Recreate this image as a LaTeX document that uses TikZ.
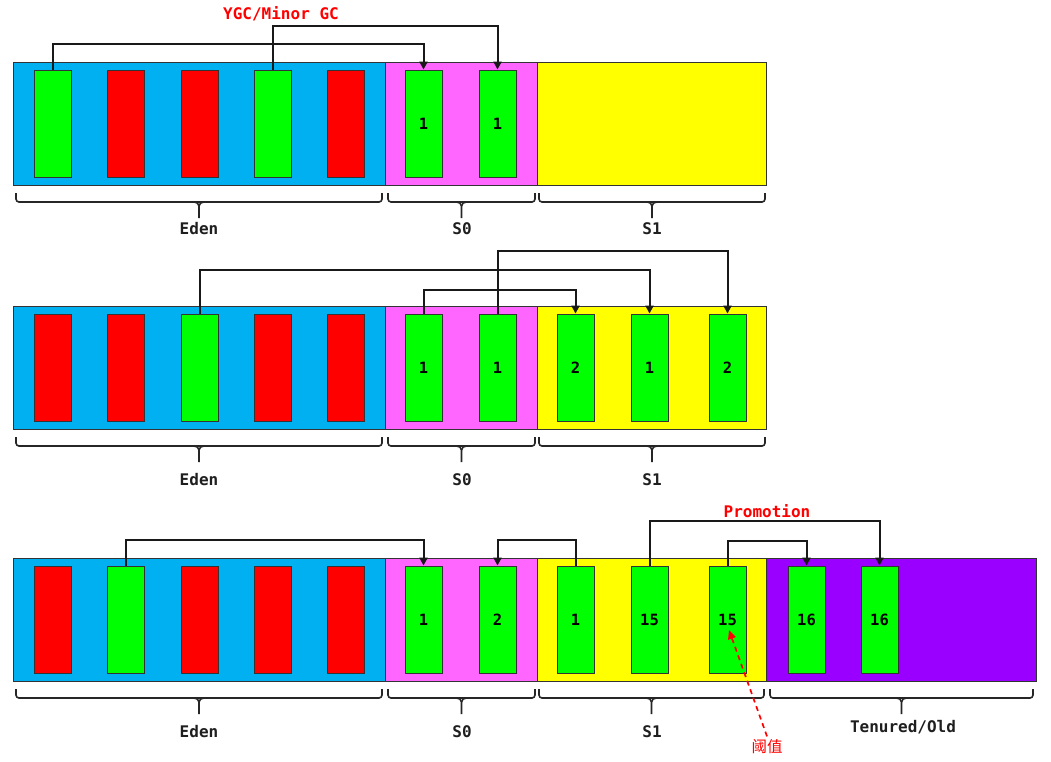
\documentclass[tikz,border=0pt]{standalone}
\usepackage{fontspec}
\setmonofont{DejaVu Sans Mono}
\newfontfamily\cjk{Noto Sans CJK SC}
\usetikzlibrary{arrows.meta}
\definecolor{edenblue}{HTML}{00B0F0}
\definecolor{szero}{HTML}{FF66FF}
\definecolor{sone}{HTML}{FFFF00}
\definecolor{oldgen}{HTML}{9900FF}
\definecolor{live}{HTML}{00FF00}
\definecolor{dead}{HTML}{FF0000}
\definecolor{edge}{HTML}{333333}
\tikzset{
  area/.style={draw=edge, line width=0.9pt},
  blk/.style={draw=edge, line width=0.9pt, minimum width=37pt, minimum height=107pt, inner sep=0pt, font=\ttfamily\bfseries\fontsize{15.5}{17}\selectfont},
  lv/.style={blk, fill=live},
  dd/.style={blk, fill=dead},
  conn/.style={draw=black!90, line width=2pt, -{Triangle[length=8pt,width=8pt]}},
  brc/.style={draw=black!85, line width=1.6pt},
  lbl/.style={font=\ttfamily\bfseries\fontsize{16}{18}\selectfont, text=black!88},
  title/.style={font=\ttfamily\bfseries\fontsize{16}{18}\selectfont, text=red},
}
\newcommand\mybrace[3]{%
  \pgfmathsetmacro\bmid{(#1+#2)/2}%
  \pgfmathsetmacro\bl{\bmid-5}%
  \pgfmathsetmacro\br{\bmid+5}%
  \pgfmathsetmacro\bh{#3+9}%
  \pgfmathsetmacro\bk{#3+13}%
  \pgfmathsetmacro\be{#3+25}%
  \draw[brc, rounded corners=3pt] (#1,#3) -- (#1,\bh) -- (#2,\bh) -- (#2,#3);
  \draw[brc] (\bl,\bh) to[out=0,in=90] (\bmid,\bk) -- (\bmid,\be);
  \draw[brc] (\br,\bh) to[out=180,in=90] (\bmid,\bk);
}
\begin{document}
\begin{tikzpicture}[x=1pt,y=-1pt]
\useasboundingbox[fill=white] (0,0) rectangle (1051,761);

% ---------- Row 1 ----------
\fill[edenblue] (13,62) rectangle (385,185);
\fill[szero] (385,62) rectangle (537,185);
\fill[sone] (537,62) rectangle (766,185);
\draw[area] (13,62) rectangle (766,185);
\draw[area] (385,62) -- (385,185);
\draw[area] (537,62) -- (537,185);

\node[lv] (a1) at (52.5,123.5) {};
\node[dd] (a2) at (125.5,123.5) {};
\node[dd] (a3) at (199.5,123.5) {};
\node[lv] (a4) at (272.5,123.5) {};
\node[dd] (a5) at (345.5,123.5) {};
\node[lv] (a6) at (423.5,123.5) {1};
\node[lv] (a7) at (497.5,123.5) {1};

\draw[conn] (a1.north) -- ++(0,-26) -| (a6.north);
\draw[conn] (a4.north) -- ++(0,-44) -| (a7.north);
\node[title] (t1) at (281,14) {YGC/Minor GC};

\mybrace{16}{382}{193}
\mybrace{388}{535}{193}
\mybrace{539}{765}{193}
\node[lbl] (l1) at (199,229) {Eden};
\node[lbl] (l2) at (462,229) {S0};
\node[lbl] (l3) at (652,229) {S1};

% ---------- Row 2 ----------
\fill[edenblue] (13,306) rectangle (385,429);
\fill[szero] (385,306) rectangle (537,429);
\fill[sone] (537,306) rectangle (766,429);
\draw[area] (13,306) rectangle (766,429);
\draw[area] (385,306) -- (385,429);
\draw[area] (537,306) -- (537,429);

\node[dd] (b1) at (52.5,367.5) {};
\node[dd] (b2) at (125.5,367.5) {};
\node[lv] (b3) at (199.5,367.5) {};
\node[dd] (b4) at (272.5,367.5) {};
\node[dd] (b5) at (345.5,367.5) {};
\node[lv] (b6) at (423.5,367.5) {1};
\node[lv] (b7) at (497.5,367.5) {1};
\node[lv] (b8) at (575.5,367.5) {2};
\node[lv] (b9) at (649.5,367.5) {1};
\node[lv] (b10) at (727.5,367.5) {2};

\draw[conn] (b3.north) -- ++(0,-44) -| (b9.north);
\draw[conn] (b6.north) -- ++(0,-24) -| (b8.north);
\draw[conn] (b7.north) -- ++(0,-63) -| (b10.north);

\mybrace{16}{382}{437}
\mybrace{388}{535}{437}
\mybrace{539}{765}{437}
\node[lbl] (m1) at (199,480) {Eden};
\node[lbl] (m2) at (462,480) {S0};
\node[lbl] (m3) at (652,480) {S1};

% ---------- Row 3 ----------
\fill[edenblue] (13,558) rectangle (385,681);
\fill[szero] (385,558) rectangle (537,681);
\fill[sone] (537,558) rectangle (766,681);
\fill[oldgen] (766,558) rectangle (1036,681);
\draw[area] (13,558) rectangle (1036,681);
\draw[area] (385,558) -- (385,681);
\draw[area] (537,558) -- (537,681);
\draw[area] (766,558) -- (766,681);

\node[dd] (c1) at (52.5,619.5) {};
\node[lv] (c2) at (125.5,619.5) {};
\node[dd] (c3) at (199.5,619.5) {};
\node[dd] (c4) at (272.5,619.5) {};
\node[dd] (c5) at (345.5,619.5) {};
\node[lv] (c6) at (423.5,619.5) {1};
\node[lv] (c7) at (497.5,619.5) {2};
\node[lv] (c8) at (575.5,619.5) {1};
\node[lv] (c9) at (649.5,619.5) {15};
\node[lv] (c10) at (727.5,619.5) {15};
\node[lv] (c11) at (806.5,619.5) {16};
\node[lv] (c12) at (879.5,619.5) {16};

\draw[conn] (c2.north) -- ++(0,-26) -| (c6.north);
\draw[conn] (c8.north) -- ++(0,-26) -| (c7.north);
\draw[conn] (c10.north) -- ++(0,-25) -| (c11.north);
\draw[conn] (c9.north) -- ++(0,-45) -| (c12.north);
\node[title] (t2) at (767,511) {Promotion};

\mybrace{16}{382}{689}
\mybrace{388}{535}{689}
\mybrace{539}{764}{689}
\mybrace{770}{1033}{689}
\node[lbl] (n1) at (199,732) {Eden};
\node[lbl] (n2) at (462,732) {S0};
\node[lbl] (n3) at (652,732) {S1};
\node[lbl] (n4) at (903,727) {Tenured/Old};

\node[text=red, font=\cjk\fontsize{15.5}{17}\selectfont] (yz) at (767,747) {阈值};
\coordinate (tip) at (729,630);
\draw[red, line width=1.7pt, dash pattern=on 5pt off 4pt, -{Triangle[length=9pt,width=8pt]}] (yz.north) -- (tip);
\end{tikzpicture}
\end{document}
